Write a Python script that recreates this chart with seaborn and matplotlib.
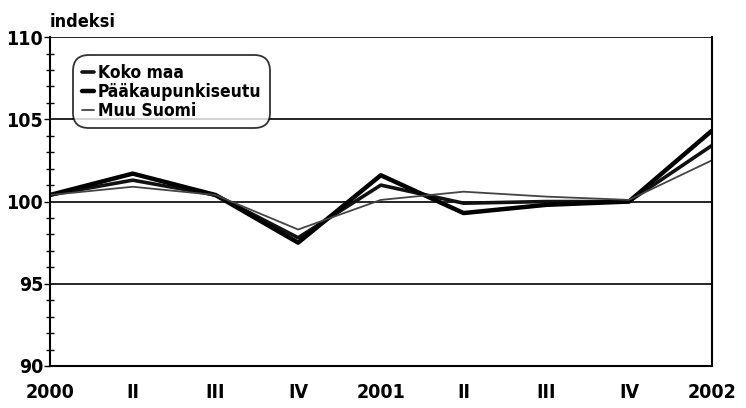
import numpy as np
import pandas as pd
import matplotlib
matplotlib.use("Agg")
import matplotlib.pyplot as plt
import seaborn as sns

quarters = ["2000", "II", "III", "IV", "2001", "II", "III", "IV", "2002"]
koko_maa = [100.4, 101.3, 100.4, 97.8, 101.0, 99.9, 100.0, 100.0, 103.4]
paakaupunkiseutu = [100.4, 101.7, 100.4, 97.5, 101.6, 99.3, 99.8, 100.0, 104.3]
muu_suomi = [100.4, 100.9, 100.4, 98.3, 100.1, 100.6, 100.3, 100.1, 102.5]

series = {"Koko maa": koko_maa,
          "Pääkaupunkiseutu": paakaupunkiseutu,
          "Muu Suomi": muu_suomi}

rows = []
for name, vals in series.items():
    for i, v in enumerate(vals):
        rows.append({"pos": i, "indeksi": v, "alue": name})
df = pd.DataFrame(rows)

sns.set_theme(style="white")
plt.rcParams['font.family'] = ['DejaVu Sans']
plt.rcParams['font.stretch'] = 'condensed'
plt.rcParams['font.weight'] = 'bold'
plt.rcParams['text.color'] = 'black'
plt.rcParams['xtick.color'] = 'black'
plt.rcParams['ytick.color'] = 'black'

fig = plt.figure(figsize=(7.46, 4.08), dpi=100)
ax = fig.add_axes([0.067, 0.103, 0.887, 0.806])

widths = {"Koko maa": 2.6, "Pääkaupunkiseutu": 3.2, "Muu Suomi": 1.3}
colors = {"Koko maa": "#111111", "Pääkaupunkiseutu": "#000000", "Muu Suomi": "#444444"}
for name in series:
    sns.lineplot(data=df[df["alue"] == name], x="pos", y="indeksi", ax=ax,
                 color=colors[name], linewidth=widths[name], label=name)

for y in [95, 100, 105, 110]:
    ax.axhline(y, color="black", linewidth=1.2, zorder=0)

ax.set_xlim(0, len(quarters) - 1)
ax.set_ylim(90, 110)
ax.set_xticks(range(len(quarters)))
ax.set_xticklabels(quarters, fontsize=14, fontweight='bold', fontstretch='condensed')
ax.set_yticks([90, 95, 100, 105, 110])
ax.set_yticklabels(["90", "95", "100", "105", "110"], fontsize=14,
                   fontweight='bold', fontstretch='condensed')
ax.set_yticks(np.arange(90, 111, 1), minor=True)
ax.tick_params(axis='y', which='major', direction='out', length=4, width=1, left=True, pad=1)
ax.tick_params(axis='y', which='minor', direction='inout', length=6, width=1, left=True)
ax.tick_params(axis='x', bottom=False, pad=6)
ax.set_xlabel("")
ax.set_ylabel("")

for s in ["left", "bottom", "right"]:
    ax.spines[s].set_visible(True)
    ax.spines[s].set_color("black")
    ax.spines[s].set_linewidth(1.5)
ax.spines["top"].set_visible(False)

ax.text(0.0, 1.02, "indeksi", transform=ax.transAxes, fontsize=13,
        fontweight='bold', fontstretch='condensed', ha='left', va='bottom')

leg = ax.legend(loc="upper left", bbox_to_anchor=(0.03, 0.955), frameon=True,
                prop={'size': 12.5, 'weight': 'bold', 'stretch': 'condensed'},
                handlelength=0.7, handletextpad=0.2,
                borderpad=0.2, labelspacing=0.05, fancybox=True)
leg.get_frame().set_edgecolor("black")
leg.get_frame().set_linewidth(1.3)
leg.get_frame().set_boxstyle("round", pad=0.3, rounding_size=0.9)

fig.savefig("out.png", dpi=100)
